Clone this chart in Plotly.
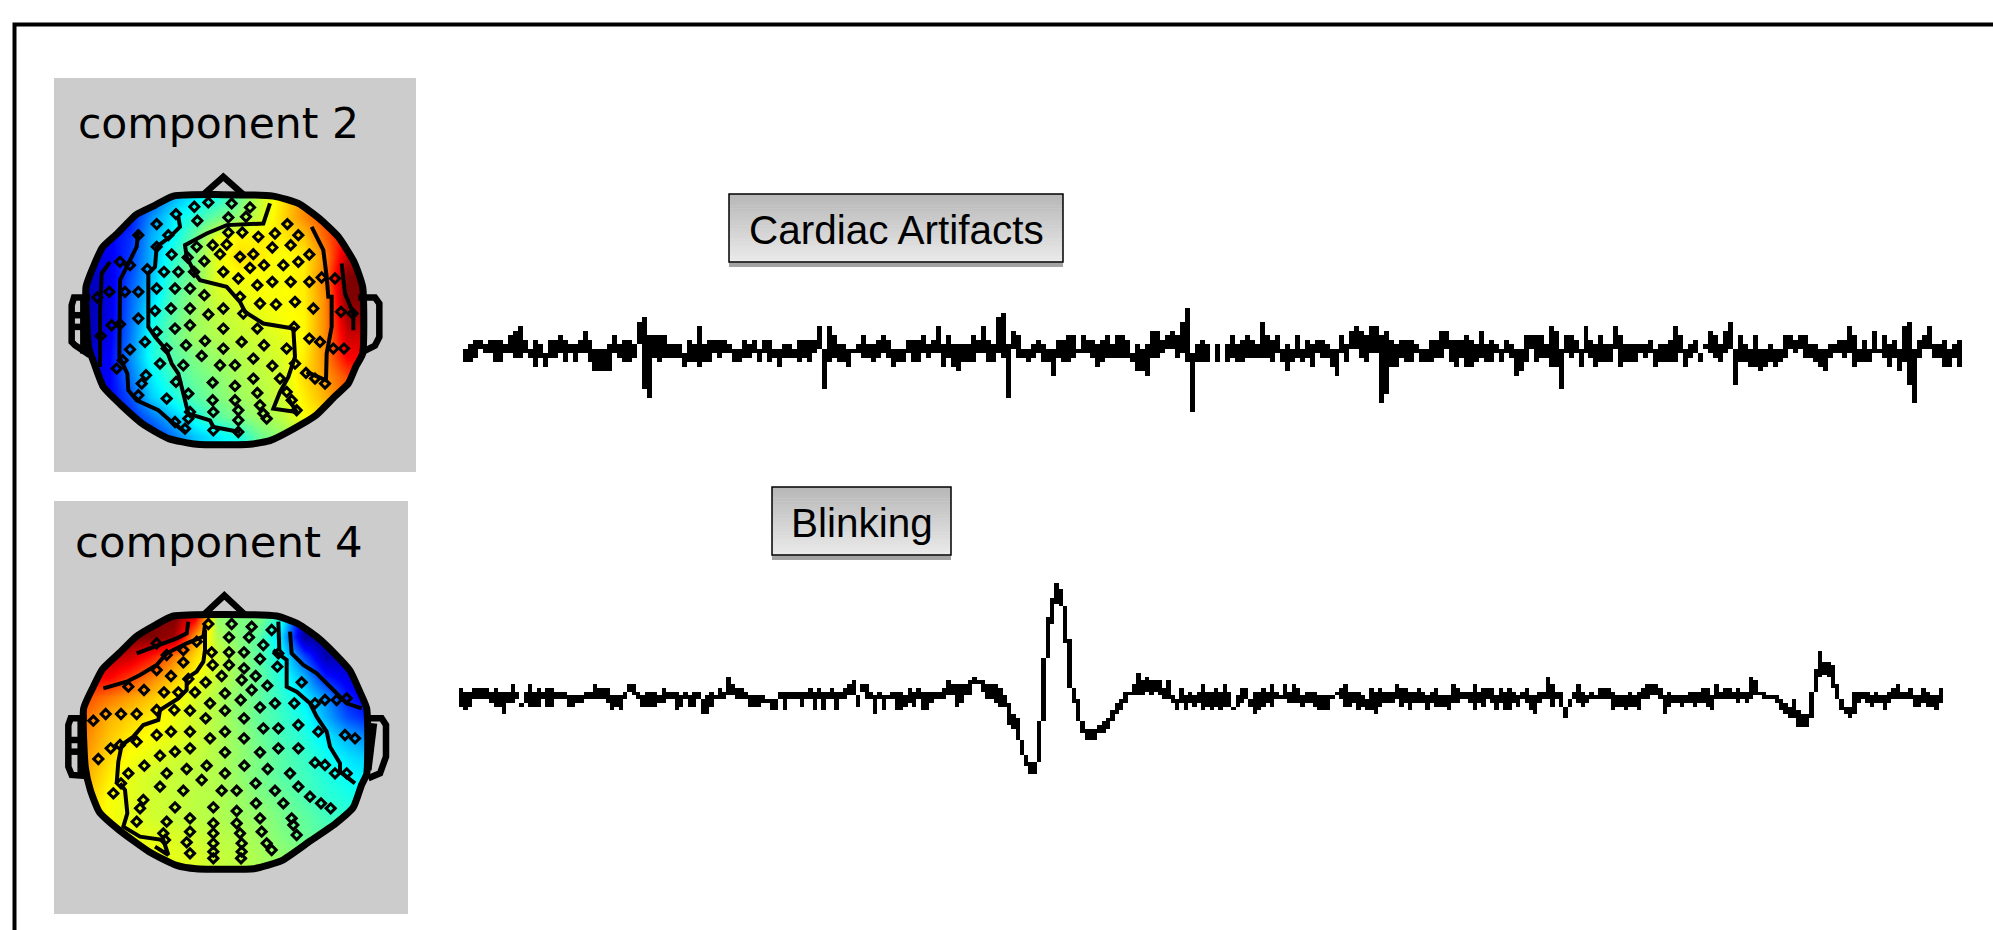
import plotly.graph_objects as go

W, H = 1993, 930

cardiac_envelope = [
(0,-3),(1,-3),(2,-2),(2,0),(1,-1),(2,-1),(2,-3),(2,-3),(1,-1),(3,-1),(4,-2),(5,-2),(2,-1),(0,-2),(2,-4),(1,-2),(-1,-4),(2,-2),(2,-2),(3,-1),(2,-3),(1,-1),(1,-3),(2,-1),(4,-1),(2,-3),(0,-5),(0,-5),(0,-5),(1,-5),(3,-1),(1,-2),(2,-3),(2,-3),(1,-2),
(6,1),(7,-9),(3,-11),(3,-2),(3,-3),(3,-2),(1,-2),(1,-2),(1,-2),(-1,-4),(2,-3),(1,-3),(5,-4),(1,-3),(2,-3),(2,-1),(2,-2),(2,-1),(1,-1),(0,-3),(0,-3),(2,-2),(1,-2),(2,-1),(0,-3),(2,-1),(2,-3),(0,-2),(0,-4),(1,-2),(1,-2),(0,-2),(2,-3),(2,-2),(2,-3),(2,-1),(5,0),(0,-9),(5,-3),(3,-2),(1,-3),(1,-3),(0,-4),(0,-1),(1,-1),(3,-2),(1,-2),(1,-3),(2,-2),(3,-1),(2,-2),(0,-4),(0,-3),(0,-3),(2,-1),(2,-3),(2,-3),(3,-1),(1,-2),(2,-1),(5,-1),(1,-4),(3,-2),(1,-4),(1,-5),(1,-3),
(1,-3),(3,-3),(2,-1),(5,-1),(2,-3),(1,-3),(7,-1),(8,-2),(1,-11),(4,0),(3,-2),(0,-2),(0,-3),(1,-2),(2,-1),(1,-3),(0,-3),(0,-6),(2,-2),(2,-3),(3,-3),(3,-2),(0,-1),(3,-1),(2,-1),(2,-2),(1,-4),(2,-3),(3,-2),(1,-2),(3,-2),(3,-2),(2,-2),(-1,-3),(1,-5),(0,-5),(1,-6),(4,-2),(4,-2),(2,-1),(3,0),(4,0),(3,-2),(6,-1),(9,-3),(-1,-14),(1,-3),(2,-3),(1,-3),(-1,-1),(1,-3),(-1,-1),(1,-3),(3,-2),(1,-3),(2,-3),(3,-2),(2,-2),(1,-2),(6,-2),(3,-2),(2,-3),(3,-1),(0,-3),(1,-5),(0,-3),(3,-2),(0,-3),(2,-2),(1,-4),(2,-1),(2,-2),(1,-2),(0,-4),(0,-6),(3,-1),(1,-3),(4,0),(5,0),(4,-2),(3,-3),(5,-1),(5,-1),(3,-12),(4,-10),(2,-4),(1,-4),(2,-2),(2,-3),(2,-3),(1,-1),(0,-3),(0,-3),(2,-3),(2,-2),(4,-2),(4,0),(2,-3),(2,-4),(2,-2),(3,-4),(2,-4),
(1,-3),(4,-2),(1,-3),(2,-3),(1,-1),(0,-3),(2,-1),(1,-2),(0,-6),(0,-5),(3,-3),(3,0),(3,-3),(3,-2),(1,-2),(5,-4),(4,-4),(0,-9),(3,-1),(3,-2),(2,-1),(0,-4),(5,-1),(2,-2),(1,-4),(3,-3),(1,-3),(1,-3),(5,0),(3,-4),(1,-3),(1,-3),(1,-3),(1,-1),(1,-2),(2,-1),(0,-4),(1,-3),(1,-3),(2,-3),(5,-3),(3,-1),(0,-4),(1,-2),(2,-1),(-1,-3),(1,0),(4,-1),(3,-2),(1,-3),(4,-1),(6,0),(0,-8),(3,-3),(1,-3),(0,-4),(3,-4),(0,-5),(0,-4),(1,-3),(0,-4),(0,-3),(3,-2),(3,0),(2,-1),(3,0),(3,-2),(1,-2),(1,-3),(0,-4),(0,-5),(1,-2),(1,-1),(2,-1),(2,-2),(5,-1),(3,-4),(0,-3),(2,-3),(0,-3),(4,-1),(0,-1),(3,-2),(1,-4),(2,-2),(0,-5),(5,-3),(6,-8),(0,-12),(2,-2),(3,0),(5,0),(1,-2),(1,-2),(2,-4),(0,-4),(1,-2),(2,-4),
]

blink_envelope = [
(2,-3),(1,-4),(1,-3),(2,-1),(2,-1),(2,-1),(2,-1),(1,-2),(2,-3),(1,-3),(1,-5),(1,-2),(3,-2),(1,-1),(-2,-3),(1,-2),(3,-3),(1,-3),(2,-3),(1,-1),(2,-3),(2,-3),(1,-1),(1,-1),(1,-1),(0,-3),(0,-3),(0,-2),(0,-2),(1,-1),(1,-1),(3,-1),(2,-1),(2,-1),(2,-2),(0,-4),(0,-3),(0,-4),(1,-1),(3,1),(3,0),(1,-1),(0,-3),(1,-3),(1,-3),(1,-3),(0,-2),(2,-2),(1,-1),(1,-1),(1,-4),(0,-3),(1,-1),(0,-3),(1,-3),(1,-1),(-1,-5),(0,-5),(1,-3),(0,-1),(2,-1),(1,-1),(5,0),(3,0),(2,-1),(2,-1),(1,-1),(0,-3),(0,-3),(0,-3),(0,-2),(-1,-2),(-1,-4),(-1,-4),(1,-1),(1,-4),(1,-1),(1,-1),(1,-1),(1,-3),(1,-1),(2,-1),(1,-4),(2,-1),(1,-4),(1,-1),(2,-1),(1,-4),(1,-1),(2,-1),(3,0),(4,0),(0,-3),(3,1),(3,-1),(1,-1),(0,-5),(1,-1),(0,-4),(0,-1),(1,-1),(1,-4),(1,-4),(0,-3),(2,-2),(1,-3),(2,-1),(1,-4),(1,-4),(1,-2),(1,-1),(1,-1),(2,-1),(4,0),(3,0),
(3,-3),(3,-2),(3,0),(4,0),(5,3),(4,3),(4,1),(3,-1),(3,-1),(3,-2),(2,-3),(0,-3),(-2,-8),(-5,-9),(-6,-12),(-12,-16),(-16,-19),(-18,-21),(-18,-21),(-7,-18),(10,-7),(21,10),(26,19),(30,24.5),(28.5,24),(24,14),(15,2),(2,-2),(-1,-7),(-7,-10),(-9,-12),(-9,-12),(-9,-12),(-8,-10),(-7,-10),(-6,-9),(-4,-7),(-2,-5),(-1,-4),(1,-2),(1,0),(3,0),(6,0),(4,0),(5,1),(4,0),(4,1),(4,0),(2,-1),(4,-1),(0,-2),(-1,-4),(2,-2),(0,-4),(1,-2),(0,-3),(1,-2),(3,-4),(1,-3),(1,-4),(2,-3),(1,-4),(3,-3),(1,-3),(-3,-4),(0,-3),(2,-2),(2,-1),(-1,-3),(1,-5),(1,-4),(2,-3),(1,-2),(3,-3),(1,-1),(0,-1),(3,-1),(1,-2),(3,-2),(2,-2),(0,-3),(1,-2),(1,-2),(1,-3),(0,-4),(0,-4),(0,-4),(0,-1),(1,0),(2,-1),(3,-3),(1,-3),(1,-2),(1,-4),(0,-3),(-1,-4),(2,-4),(1,-5),(2,-3),(1,-2),(1,-2),(1,-2),(3,-1),(2,-3),(2,-2),(1,-4),(1,-2),(2,-2),(1,-2),(0,-4),(1,-2),(2,-3),(0,-3),(0,-3),(0,-4),
(3,-2),(2,-2),(1,-1),(1,-1),(1,-2),(3,-4),(1,-2),(2,-3),(2,-1),(2,-2),(0,-4),(2,-2),(1,-4),(2,-4),(1,-2),(0,-3),(1,-1),(2,-2),(0,-4),(0,-5),(1,-2),(1,-1),(5,-1),(3,-3),(1,-1),(1,-3),(-3,-6),(-1,-3),(1,-1),(3,-2),(1,-3),(0,-2),(1,-1),(0,-1),(2,-1),(2,-1),(2,-1),(1,-4),(0,-3),(0,-3),(0,-4),(1,-3),(0,-3),(1,-4),(2,-1),(3,-1),(3,0),(3,0),(2,-1),(0,-5),(1,-3),(0,-2),(0,-2),(0,-3),(0,-2),(1,-2),(1,-3),(1,-2),(2,-2),(2,-3),(0,-4),(3,-1),(1,-1),(2,-1),(2,-1),(1,-1),(2,-2),(1,-1),(1,-2),(5,-1),(4,0),(1,0),(1,-1),(0,-1),(0,-1),(0,-2),(-1,-4),(-2,-5),(-3,-6),(-1,-6),(-4,-8.5),(-5,-8.5),(-5,-8.5),(1,-6),(7,1),(12,5),(9,5.5),(9,5),(8,2),(3,-1),(-1,-4),(-3,-5),(-3,-6),(1,-5),(1,-2),(1,-1),(1,-2),(0,-3),(1,-2),(0,-2),(0,-4),(1,-2),(2,-1),(3,-1),(1,-1),(1,-1),(2,-1),(0,-3),(0,-3),(2,-2),(1,-3),(0,-3),(0,-4),(2,-2),
]

grid_x = [140,205,270,335,400,465,530,595,660,725,790,855,920,985]
grid_y = [380,440,500,560,620,680,740,800,860,920,980,1040,1100,1160]

comp2_map = [
[.10,.10,.12,.20,.30,.36,.40,.48,.57,.65,.74,.80,.85,.90],
[.10,.10,.14,.27,.36,.42,.48,.52,.58,.66,.74,.80,.85,.90],
[.10,.12,.17,.30,.38,.48,.60,.63,.64,.64,.68,.78,.88,.95],
[.08,.11,.18,.31,.42,.50,.60,.66,.64,.62,.64,.74,.94,.97],
[.05,.10,.20,.32,.44,.50,.60,.62,.62,.62,.64,.76,1.0,1.0],
[.04,.10,.22,.34,.46,.52,.58,.60,.62,.62,.64,.74,1.0,1.0],
[.04,.10,.23,.38,.47,.53,.56,.58,.60,.62,.63,.74,.96,.98],
[.04,.11,.24,.40,.48,.53,.55,.57,.58,.60,.63,.74,.92,.92],
[.08,.12,.26,.40,.46,.50,.53,.55,.57,.59,.64,.74,.88,.88],
[.08,.12,.24,.36,.44,.48,.51,.54,.56,.58,.66,.72,.80,.85],
[.08,.12,.20,.33,.40,.46,.50,.53,.55,.58,.64,.70,.78,.80],
[.08,.12,.16,.24,.32,.40,.46,.50,.53,.56,.62,.66,.70,.70],
[.10,.12,.14,.16,.24,.32,.36,.40,.48,.52,.56,.60,.60,.60],
[.10,.12,.14,.16,.24,.32,.36,.40,.48,.52,.56,.60,.60,.60],
]

comp4_map = [
[1.0,1.0,1.0,1.0,1.0,.90,.52,.50,.50,.40,.05,.05,.05,.05],
[1.0,1.0,1.0,1.0,.97,.72,.55,.50,.46,.33,.03,.03,.03,.05],
[.95,.95,.92,.85,.75,.66,.58,.52,.46,.38,.20,.05,.05,.05],
[.88,.88,.82,.75,.68,.62,.57,.52,.47,.40,.30,.15,.10,.10],
[.80,.76,.72,.68,.63,.59,.55,.51,.47,.42,.36,.27,.15,.10],
[.76,.70,.67,.64,.61,.58,.55,.51,.47,.43,.39,.30,.20,.15],
[.74,.68,.64,.62,.60,.58,.55,.52,.48,.44,.41,.36,.30,.25],
[.72,.66,.62,.60,.58,.57,.55,.52,.49,.46,.43,.39,.35,.32],
[.70,.64,.60,.58,.57,.56,.55,.52,.49,.46,.44,.41,.38,.36],
[.68,.62,.60,.58,.57,.56,.55,.53,.50,.48,.45,.42,.40,.38],
[.66,.62,.60,.58,.57,.56,.55,.53,.52,.49,.47,.44,.42,.40],
[.65,.63,.61,.60,.59,.58,.56,.55,.53,.50,.48,.46,.44,.42],
[.65,.64,.62,.62,.60,.59,.57,.56,.54,.52,.50,.48,.46,.44],
[.65,.64,.62,.62,.60,.59,.57,.56,.54,.52,.50,.48,.46,.44],
]

comp2_sensors = [(505,397),(575,400),(463,410),(630,412),(408,432),(565,442),(618,440),(472,452),(350,462),(742,462),(565,487),(607,487),(385,495),(655,500),(705,490),(775,495),(295,495),(470,530),(518,525),(560,523),(697,532),(752,525),(350,530),(395,553),(443,562),(540,552),(600,560),(640,552),(808,553),(240,575),(270,585),(493,573),(630,593),(672,585),(730,585),(775,575),(322,597),(372,605),(415,605),(462,605),(550,605),(595,625),(652,645),(697,635),(752,635),(808,635),(845,622),(885,625),(350,655),(405,655),(450,655),(208,665),(255,665),(295,665),(493,675),(600,680),(172,682),(660,700),(708,703),(765,695),(820,715),(345,722),(393,715),(450,715),(505,733),(550,715),(610,730),(903,725),(938,730),(295,745),(215,765),(240,762),(350,785),(405,775),(450,765),(550,775),(652,775),(762,770),(182,797),(808,805),(840,815),(495,812),(605,815),(672,825),(315,815),(438,825),(380,835),(270,838),(550,835),(740,835),(880,835),(912,835),(485,857),(640,865),(248,870),(360,880),(430,885),(540,885),(585,885),(697,887),(765,880),(230,895),(798,908),(825,925),(855,940),(318,915),(305,940),(640,925),(408,935),(518,937),(585,947),(720,925),(652,968),(445,970),(740,965),(295,975),(380,985),(518,990),(585,990),(755,990),(660,1005),(450,1025),(520,1025),(595,1020),(670,1030),(770,1020),(445,1045),(595,1050),(680,1045),(405,1055),(520,1080),(595,1085),(435,1075)]

comp4_sensors = [(505,402),(575,402),(635,410),(695,420),(470,455),(567,442),(627,442),(670,465),(515,487),(567,487),(612,487),(430,480),(350,460),(380,495),(660,507),(715,490),(430,517),(518,525),(567,525),(612,535),(712,530),(350,540),(393,558),(545,558),(605,570),(647,558),(785,577),(445,567),(497,577),(265,590),(312,600),(372,607),(415,607),(465,607),(555,610),(635,600),(682,587),(602,630),(510,640),(705,640),(660,652),(763,640),(825,640),(855,630),(890,630),(920,625),(350,660),(403,660),(450,662),(555,662),(197,672),(243,672),(290,672),(160,692),(497,685),(612,685),(670,715),(715,715),(775,705),(835,725),(350,735),(393,725),(450,725),(510,745),(555,725),(612,745),(915,735),(945,745),(290,755),(212,775),(240,765),(360,797),(405,785),(450,775),(555,787),(660,787),(715,775),(775,775),(175,807),(825,818),(855,825),(885,850),(500,827),(613,827),(683,837),(313,827),(440,837),(380,850),(265,850),(555,850),(750,850),(920,850),(485,870),(647,880),(243,880),(360,890),(430,902),(545,902),(590,902),(705,902),(775,890),(220,910),(810,920),(843,940),(872,955),(310,930),(300,955),(648,940),(405,952),(520,952),(590,963),(730,940),(660,985),(450,985),(755,985),(290,995),(380,995),(520,1000),(590,1000),(760,1005),(665,1025),(450,1025),(520,1030),(600,1030),(770,1035),(375,1050),(440,1057),(520,1060),(605,1060),(680,1060),(450,1090),(520,1085),(605,1085),(695,1080),(520,1105),(603,1105),(370,1030)]

comp2_head = [(400,378),(700,378),(775,400),(838,445),(895,500),(942,575),(968,650),(968,850),(948,888),(925,940),(885,978),(828,1035),(760,1076),(692,1110),(630,1122),(470,1122),(386,1105),(312,1064),(242,1003),(190,950),(162,878),(146,832),(138,650),(160,590),(187,532),(232,490),(288,434),(346,405)]
comp4_head = [(400,378),(710,378),(775,402),(832,442),(885,492),(930,542),(958,602),(980,655),(980,852),(965,884),(940,952),(885,1002),(812,1052),(725,1112),(642,1136),(468,1136),(410,1126),(327,1085),(237,1020),(178,966),(151,900),(136,832),(131,655),(160,590),(187,538),(237,490),(288,440),(346,405)]

comp2_contours = [
[(295,480),(290,530),(260,590),(240,630),(238,860),(262,910),(265,960),(290,990),(355,1020),(395,1055),(435,1085)],
[(210,575),(185,610),(180,720),(180,890)],
[(415,440),(420,470),(390,500),(350,530),(345,590),(325,610),(325,770),(345,800),(380,840),(395,880),(415,910),(430,970),(445,1030),(510,1050),(520,1070),(600,1085)],
[(690,400),(670,460),(560,465),(500,490),(435,525),(440,560),(465,610),(480,630),(560,650),(600,695),(615,725),(670,760),(760,775),(765,860),(745,920),(720,965),(700,1015),(770,1025),(745,985)],
[(815,470),(850,540),(860,620),(865,680),(875,680),(875,770),(860,850),(858,930),(800,905)],
[(905,580),(915,670),(940,730),(940,780)],
]
comp4_contours = [
[(290,490),(355,465),(410,445),(440,430),(445,395)],
[(190,595),(260,575),(300,555),(350,525),(380,490),(440,460),(490,440),(495,405)],
[(230,880),(235,815),(245,765),(280,740),(310,705),(355,690),(360,660),(415,625),(440,600),(440,565),(470,545),(490,515),(495,480),(495,420)],
[(240,880),(255,900),(262,970),(250,1010),(300,1040),(370,1050),(385,1095),(345,1070)],
[(700,480),(740,510),(740,590),(770,605),(810,640),(830,680),(860,725),(870,770),(900,820),(900,845),(945,880)],
[(750,425),(755,490),(790,525),(830,550),(880,600),(920,640),(965,655)],
[(715,395),(718,480)],
]

comp2_nose = [(488,375),(550,320),(612,375)]
comp4_nose = [(490,375),(553,316),(616,375)]
comp2_ears = [
[(150,682),(102,682),(95,705),(95,815),(105,825),(150,855)],
[(130,682),(130,850)],
[(100,735),(135,735)],
[(100,770),(135,770)],
[(955,682),(1005,682),(1018,700),(1018,800),(1005,826),(962,848)],
]
comp4_ears = [
[(140,685),(92,685),(85,705),(85,830),(95,855),(140,858)],
[(122,685),(122,855)],
[(90,750),(125,750)],
[(90,785),(125,785)],
[(978,685),(1025,685),(1038,705),(1038,800),(1020,850),(985,865)],
[(1002,700),(985,840)],
]

MATLAB_JET = [[0,"#00007f"],[.125,"#0000ff"],[.375,"#00ffff"],[.625,"#ffff00"],[.875,"#ff0000"],[1,"#7f0000"]]
PANEL = "#cccccc"

def fx(p): return p / W
def fy(p): return 1 - p / H

def polylines(parts):
    xs, ys = [], []
    for part in parts:
        xs += [p[0] for p in part] + [None]
        ys += [p[1] for p in part] + [None]
    return xs, ys

fig = go.Figure()
shapes, annotations = [], []

def add_head(suffix, z, head, contours, nose, ears, sensors):
    xa, ya = "x" + suffix, "y" + suffix
    fig.add_trace(go.Heatmap(x=grid_x, y=grid_y, z=z, zmin=0, zmax=1, zsmooth="best",
                             colorscale=MATLAB_JET, showscale=False, hoverinfo="skip", xaxis=xa, yaxis=ya))
    hx = [p[0] for p in head] + [head[0][0]]
    hy = [p[1] for p in head] + [head[0][1]]
    fig.add_trace(go.Scatter(x=[90,90,1040,1040,90,None]+hx, y=[330,1205,1205,330,330,None]+hy,
                             mode="lines", line=dict(width=0, shape="spline", smoothing=0.5), fill="toself", fillcolor=PANEL,
                             hoverinfo="skip", xaxis=xa, yaxis=ya))
    cx, cy = polylines(contours)
    fig.add_trace(go.Scatter(x=cx, y=cy, mode="lines", line=dict(color="black", width=4), hoverinfo="skip", xaxis=xa, yaxis=ya))
    fig.add_trace(go.Scatter(x=[p[0] for p in sensors], y=[p[1] for p in sensors], mode="markers",
                             marker=dict(symbol="diamond-open", size=7, color="black", line=dict(width=3, color="black")),
                             hoverinfo="skip", xaxis=xa, yaxis=ya))
    fig.add_trace(go.Scatter(x=hx, y=hy, mode="lines", line=dict(color="black", width=7, shape="spline", smoothing=0.5),
                             hoverinfo="skip", xaxis=xa, yaxis=ya))
    ex, ey = polylines([nose] + ears)
    fig.add_trace(go.Scatter(x=ex, y=ey, mode="lines", line=dict(color="black", width=6.5), hoverinfo="skip", xaxis=xa, yaxis=ya))

def add_signal(suffix, env):
    xa, ya = "x" + suffix, "y" + suffix
    fig.add_trace(go.Bar(x=list(range(len(env))), y=[a - b for a, b in env], base=[b for a, b in env],
                         width=1, marker=dict(color="black", line=dict(width=0)), hoverinfo="skip", xaxis=xa, yaxis=ya))

add_head("", comp2_map, comp2_head, comp2_contours, comp2_nose, comp2_ears, comp2_sensors)
add_head("2", comp4_map, comp4_head, comp4_contours, comp4_nose, comp4_ears, comp4_sensors)
add_signal("3", cardiac_envelope)
add_signal("4", blink_envelope)

def ax(px0, px1, rng, horizontal=True):
    dom = [fx(px0), fx(px1)] if horizontal else [fy(px1), fy(px0)]
    return dict(domain=dom, range=rng, visible=False, fixedrange=True)

layout_axes = dict(
    xaxis=ax(54, 416, [42, 1128]), yaxis=ax(78, 472, [1205, 24], False),
    xaxis2=ax(54, 408, [42, 1104]), yaxis2=ax(501, 914, [1272, 33], False),
    xaxis3=ax(463, 463 + 4.98 * len(cardiac_envelope), [-0.5, len(cardiac_envelope) - 0.5]),
    yaxis3=ax(290, 420, [-15.85, 13.04], False),
    xaxis4=ax(459, 1943, [-0.5, len(blink_envelope) - 0.5]),
    yaxis4=ax(575, 780, [-22.7, 32.25], False),
)

def rect(x0, y0, x1, y1, fill, line=None, layer="below"):
    shapes.append(dict(type="rect", xref="paper", yref="paper", x0=fx(x0), x1=fx(x1), y0=fy(y0), y1=fy(y1),
                       fillcolor=fill, line=dict(width=1.5 if line else 0, color=line or fill), layer=layer))

# outer frame
shapes.append(dict(type="path", xref="paper", yref="paper", layer="below",
                   path=f"M {fx(14.5)} {fy(935)} L {fx(14.5)} {fy(24.5)} L {fx(2000)} {fy(24.5)}",
                   line=dict(color="black", width=4)))
# grey panels
rect(54, 78, 416, 472, PANEL)
rect(54, 501, 408, 914, PANEL)

def button(x0, y0, x1, y1, label):
    rect(x0, y1, x1, y1 + 5, "#a3a3a3")
    steps = 24
    for i in range(steps):
        t = i / (steps - 1)
        g = int(184 + (234 - 184) * t)
        rect(x0, y0 + (y1 - y0) * i / steps, x1, y0 + (y1 - y0) * (i + 1) / steps + .5, f"rgb({g},{g},{g})")
    shapes.append(dict(type="rect", xref="paper", yref="paper", x0=fx(x0), x1=fx(x1), y0=fy(y0), y1=fy(y1),
                       line=dict(color="black", width=1.5), layer="below"))
    annotations.append(dict(xref="paper", yref="paper", x=fx((x0 + x1) / 2), y=fy((y0 + y1) / 2 + 2), text=label,
                            showarrow=False, xanchor="center", yanchor="middle",
                            font=dict(family="Liberation Sans", size=40.5, color="black")))

button(729, 194, 1063, 262, "Cardiac Artifacts")
button(772, 487, 951, 555, "Blinking")

def label(px, py, text, size):
    annotations.append(dict(xref="paper", yref="paper", x=fx(px), y=fy(py), text=text, showarrow=False,
                            xanchor="left", yanchor="middle",
                            font=dict(family="DejaVu Sans", size=size, color="black")))

label(76, 123, "component 2", 42.5)
label(73, 542, "component 4", 43.5)

fig.update_layout(width=W, height=H, margin=dict(l=0, r=0, t=0, b=0, pad=0), autosize=False,
                  paper_bgcolor="white", plot_bgcolor="rgba(0,0,0,0)", showlegend=False, bargap=0,
                  shapes=shapes, annotations=annotations, **layout_axes)

fig.write_html("out.html", config=dict(displayModeBar=False, responsive=False),
               post_script="document.body.style.margin='0';document.body.style.overflow='hidden';")
